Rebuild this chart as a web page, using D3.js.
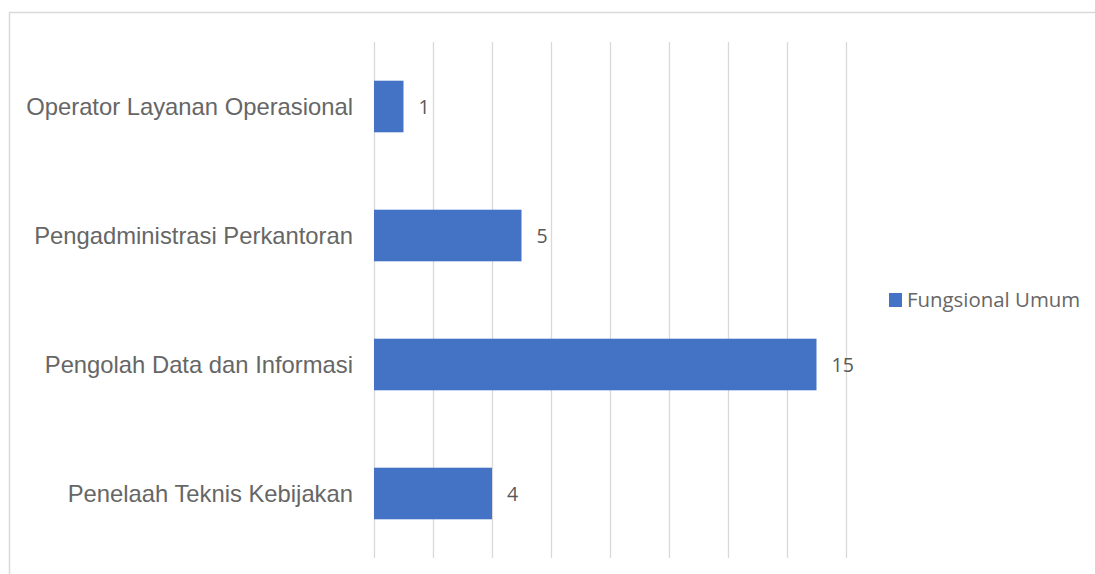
<!DOCTYPE html>
<html>
<head>
<meta charset="utf-8">
<script src="https://cdn.jsdelivr.net/npm/d3@7"></script>
<style>
  html, body { margin: 0; padding: 0; background: #ffffff; }
  svg { display: block; }
</style>
</head>
<body>
<script>
// Jabatan fungsional umum: jumlah pegawai per jabatan
const categories = [
  "Operator Layanan Operasional",
  "Pengadministrasi Perkantoran",
  "Pengolah Data dan Informasi",
  "Penelaah Teknis Kebijakan"
];
const values = [1, 5, 15, 4];
const seriesName = "Fungsional Umum";
const xTicks = [0, 2, 4, 6, 8, 10, 12, 14, 16];

const W = 1095, H = 574;
const barColor = "#4472C4";
const textColor = "#595959";
const labelColor = "#666666";
const gridColor = "#d9d9d9";

const svg = d3.select("body").append("svg")
  .attr("width", W).attr("height", H);

// chart area frame
svg.append("rect")
  .attr("x", 9.5).attr("y", 12.5)
  .attr("width", W + 10).attr("height", H + 10)
  .attr("fill", "#fff")
  .attr("stroke", gridColor).attr("stroke-width", 1.5);

const x = d3.scaleLinear().domain([0, 16]).range([374, 846]);
const y = d3.scaleBand().domain(categories).range([42, 558])
  .paddingInner(0.6).paddingOuter(0.3);

// vertical gridlines
svg.append("g").selectAll("line").data(xTicks).join("line")
  .attr("x1", d => Math.round(x(d)) + 0.5)
  .attr("x2", d => Math.round(x(d)) + 0.5)
  .attr("y1", 42).attr("y2", 558)
  .attr("stroke", gridColor).attr("stroke-width", 1.3);

// bars
svg.append("g").selectAll("rect").data(values).join("rect")
  .attr("x", x(0))
  .attr("y", (d, i) => y(categories[i]))
  .attr("width", d => x(d) - x(0))
  .attr("height", y.bandwidth())
  .attr("fill", barColor);

// value labels
svg.append("g").selectAll("text").data(values).join("text")
  .attr("x", d => x(d) + 15)
  .attr("y", (d, i) => y(categories[i]) + y.bandwidth() / 2)
  .attr("dy", "0.36em")
  .attr("font-family", "'Open Sans', sans-serif")
  .attr("font-size", 19.5)
  .attr("fill", textColor)
  .text(d => d);

// category axis labels
svg.append("g").selectAll("text").data(categories).join("text")
  .attr("x", 353)
  .attr("y", d => y(d) + y.bandwidth() / 2)
  .attr("dy", "0.36em")
  .attr("text-anchor", "end")
  .attr("font-family", "'Liberation Sans', Arial, sans-serif")
  .attr("font-size", 23.8)
  .attr("fill", labelColor)
  .text(d => d);

// legend
const legend = svg.append("g").attr("transform", "translate(889,293)");
legend.append("rect").attr("width", 13).attr("height", 14).attr("fill", barColor);
legend.append("text")
  .attr("x", 18).attr("y", 7).attr("dy", "0.36em")
  .attr("font-family", "'Open Sans', sans-serif")
  .attr("font-size", 20.4)
  .attr("fill", labelColor)
  .text(seriesName);
</script>
</body>
</html>
